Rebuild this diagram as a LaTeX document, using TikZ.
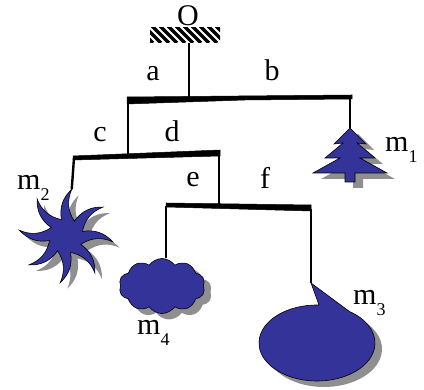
\documentclass[tikz,border=0pt]{standalone}
\usepackage{fontspec}
\setmainfont{Liberation Serif}
\usetikzlibrary{shapes.symbols, calc}
\definecolor{MassBlue}{HTML}{333399}
\definecolor{ShadowGray}{HTML}{8F8F8F}
% etiqueta de masa con subindice
\newcommand{\masslabel}[1]{m\raisebox{-0.34em}{\fontsize{18}{18}\selectfont #1}}

\begin{document}
\begin{tikzpicture}[
    x=1pt, y=1pt,
    % Estilo para etiquetas
    lbl/.style={
            font=\fontsize{30}{32}\selectfont,
            inner sep=0pt
        },
    % Barras del movil
    bar/.style={
            fill=black,
            draw=black,
            line width=0.5pt
        },
    % Hilos
    wire/.style={
            draw=black,
            line width=2.4pt
        },
    % Masas y sombras
    mass/.style={
            fill=MassBlue,
            draw=black,
            line width=0.6pt
        },
    massshadow/.style={
            fill=ShadowGray,
            draw=none
        },
    % Nube
    cloudmass/.style={
            cloud,
            cloud puffs=10,
            cloud puff arc=110,
            aspect=1.6,
            minimum width=86,
            minimum height=55,
            inner sep=0pt
        }
    ]
    \useasboundingbox (0,0) rectangle (424,390);

    % ========== TECHO ==========
    \coordinate (ceilSW) at (150,347);
    \coordinate (ceilNE) at (220,362);
    \begin{scope}
        \clip (ceilSW) rectangle (ceilNE);
        \foreach \x in {136,144,...,224}
            \draw[line width=3.4pt] (\x,364) -- ++(17,-17);
    \end{scope}
    \node[lbl, anchor=base] (O) at (188,364) {O};
    \coordinate (ceilhook) at (189,347);

    % ========== BARRAS ==========
    \fill[bar] (127,293) -- (352,295) -- (352,291) -- (245,290) -- (127,286) -- cycle;
    \fill[bar] (73,234) -- (220,240) -- (220,234) -- (73,230) -- cycle;
    \fill[bar] (166,187) -- (311,185) -- (311,179) -- (166,183) -- cycle;

    % puntos de los hilos
    \coordinate (topmid) at (189,291);
    \coordinate (topL) at (128,288);
    \coordinate (topR) at (350,293);
    \coordinate (midhook) at (128,232);
    \coordinate (midL) at (74,232);
    \coordinate (midR) at (219,236);
    \coordinate (lowhook) at (219,184);
    \coordinate (lowL) at (166,184);
    \coordinate (lowR) at (311,181);

    % ========== MASAS ==========
    % m1: arbol
    \coordinate (treetop) at (350,262);
    \begin{scope}[shift={(8,-6)}]
        \fill[massshadow] (350,262) -- (366,246) -- (357,247) -- (375,232) -- (360,232) -- (387,217) -- (355,217) -- (355,208) -- (345,208) -- (345,217) -- (313,217) -- (340,232) -- (325,232) -- (343,247) -- (334,246) -- cycle;
    \end{scope}
    \filldraw[mass] (350,262) -- (366,246) -- (357,247) -- (375,232) -- (360,232) -- (387,217) -- (355,217) -- (355,208) -- (345,208) -- (345,217) -- (313,217) -- (340,232) -- (325,232) -- (343,247) -- (334,246) -- cycle;

    % m2: estrella
    \coordinate (starc) at (66,154);
    \coordinate (startip) at ($(starc)+(83:47)$);
    \begin{scope}[shift={(73,148)}]
        \fill[massshadow] (60.5:17) \foreach \k in {0,...,7} {
                to[bend left=28] ({83+45*\k}:47) to[bend right=28] ({105.5+45*\k}:17)
            } -- cycle;
    \end{scope}
    \begin{scope}[shift={(starc)}]
        \filldraw[mass] (60.5:17) \foreach \k in {0,...,7} {
                to[bend left=28] ({83+45*\k}:47) to[bend right=28] ({105.5+45*\k}:17)
            } -- cycle;
    \end{scope}

    % m4: nube
    \node[cloudmass, massshadow] at (169,98) {};
    \node[cloudmass, mass] (cloudm) at (162,104) {};

    % m3: globo
    \coordinate (bubbletip) at (311,107);
    \begin{scope}[shift={(7,-6)}]
        \fill[massshadow] (311,107) -- ([shift={(317,47)}]88:58 and 38) arc[start angle=88, end angle=416, x radius=58, y radius=38] -- cycle;
    \end{scope}
    \filldraw[mass] (bubbletip) -- ([shift={(317,47)}]88:58 and 38) arc[start angle=88, end angle=416, x radius=58, y radius=38] -- cycle;

    % ========== HILOS ==========
    \draw[wire, line width=2pt] (ceilhook) -- (topmid);
    \draw[wire] (topL) -- (midhook);
    \draw[wire] (topR) -- (treetop);
    \draw[wire] (midL) -- (startip);
    \draw[wire] (midR) -- (lowhook);
    \draw[wire] (lowL) -- (cloudm.north -| lowL);
    \draw[wire] (lowR) -- (bubbletip);

    % ========== ETIQUETAS ==========
    \node[lbl, anchor=base] (la) at (153,309) {a};
    \node[lbl, anchor=base] (lb) at (272,309) {b};
    \node[lbl, anchor=base] (lc) at (100,248) {c};
    \node[lbl, anchor=base] (ld) at (172,248) {d};
    \node[lbl, anchor=base] (le) at (193,203) {e};
    \node[lbl, anchor=base] (lf) at (265,201) {f};
    \node[lbl, anchor=base west] (lm1) at (385,238) {\masslabel{1}};
    \node[lbl, anchor=base west] (lm2) at (17,200) {\masslabel{2}};
    \node[lbl, anchor=base west] (lm3) at (353,85) {\masslabel{3}};
    \node[lbl, anchor=base west] (lm4) at (137,55) {\masslabel{4}};

\end{tikzpicture}
\end{document}
